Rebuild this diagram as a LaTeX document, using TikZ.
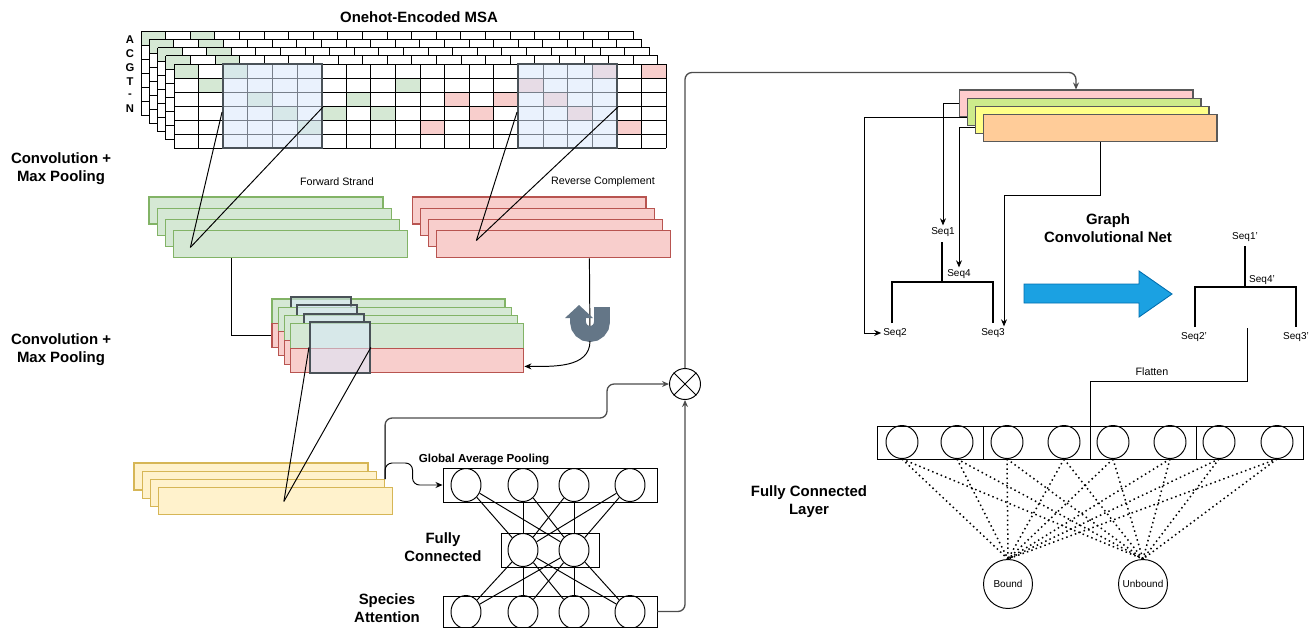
\documentclass[tikz,border=0pt]{standalone}
\usepackage{fontspec}
\setmainfont{Liberation Sans}
\usetikzlibrary{positioning,arrows.meta,calc,shapes.geometric}

\definecolor{cellgreen}{HTML}{D5E8D4}
\definecolor{cellred}{HTML}{F8CECC}
\definecolor{fwdline}{HTML}{82B366}
\definecolor{revline}{HTML}{B85450}
\definecolor{poolfill}{HTML}{FFF2CC}
\definecolor{poolline}{HTML}{D6B656}
\definecolor{hlfill}{HTML}{DAE8FC}
\definecolor{hlline}{HTML}{4A5258}
\definecolor{uturncol}{HTML}{647687}
\definecolor{gcnblue}{HTML}{1BA1E2}
\definecolor{gcnline}{HTML}{006EAF}
\definecolor{embpink}{HTML}{FFCCCC}
\definecolor{embgreen}{HTML}{CDEB8B}
\definecolor{embyellow}{HTML}{FFFF88}
\definecolor{embpeach}{HTML}{FFCC99}

\newcommand{\headfont}{\fontsize{8.5}{10.3}\selectfont\bfseries}
\newcommand{\gapfont}{\fontsize{6.6}{8}\selectfont\bfseries}
\newcommand{\letterfont}{\fontsize{6.4}{8}\selectfont\bfseries}
\newcommand{\notefont}{\fontsize{6.1}{7.5}\selectfont}
\newcommand{\seqfont}{\fontsize{5.7}{7}\selectfont}

% one layer of the one-hot grid: #1 = offset, #2 = cells col/row/colour
\newcommand{\msalayer}[2]{%
  \begin{scope}[shift={(#1,#1)}]
    \fill[white] (141,31) rectangle ++(492,84);
    \foreach \cx/\ry/\cl in {#2}
      \fill[\cl] (141+24.6*\cx,31+14*\ry) rectangle ++(24.6,14);
    \foreach \cx in {0,...,20} \draw[gridline] (141+24.6*\cx,31) -- ++(0,84);
    \foreach \ry in {0,...,6} \draw[gridline] (141,31+14*\ry) -- ++(492,0);
  \end{scope}}

\begin{document}
\begin{tikzpicture}[
  x=0.02cm, y=-0.02cm,
  gridline/.style={draw=black,line width=0.5pt},
  hl/.style={rectangle,draw=hlline,line width=1.1pt,fill=hlfill,fill opacity=0.55,inner sep=0pt},
  layerbox/.style={rectangle,inner sep=0pt,minimum width=4.68cm,minimum height=0.54cm,line width=0.6pt},
  fwd/.style={layerbox,fill=cellgreen,draw=fwdline},
  rev/.style={layerbox,fill=cellred,draw=revline},
  pool/.style={layerbox,fill=poolfill,draw=poolline},
  emb/.style={layerbox,draw=black!65},
  conn/.style={draw=black,line width=0.55pt},
  arrowed/.style={-{Stealth[length=4pt,width=3.4pt]}},
  arr/.style={conn,arrowed},
  flow/.style={draw=black!70,line width=0.75pt,rounded corners=4pt},
  neuron/.style={ellipse,draw,line width=0.55pt,inner sep=0pt,minimum width=0.6cm,minimum height=0.66cm},
  nnbox/.style={rectangle,draw,line width=0.55pt,inner sep=0pt},
  outn/.style={circle,draw,line width=0.55pt,minimum size=0.98cm,inner sep=0pt,font=\seqfont},
  branch/.style={draw=black,line width=1.1pt},
  seq/.style={font=\seqfont,inner sep=1pt},
  head/.style={font=\headfont,align=center,inner sep=0pt},
  note/.style={font=\notefont,inner sep=0pt},
  dots/.style={draw=black,line width=0.85pt,dash pattern=on 0.85pt off 1.8pt},
]
\useasboundingbox (0,0) rectangle (1312,627);

% one-hot encoded MSA, back layers first
\node[head] (title) at (419,17) {Onehot-Encoded MSA};
\foreach \l in {0,...,3} \msalayer{8.25*\l}{0/0/cellgreen,2/0/cellgreen};
\msalayer{33}{0/0/cellgreen,1/1/cellgreen,2/0/cellgreen,3/2/cellgreen,4/3/cellgreen,
  5/4/cellgreen,6/3/cellgreen,7/2/cellgreen,8/3/cellgreen,9/1/cellgreen,
  10/4/cellred,11/2/cellred,12/3/cellred,13/2/cellred,14/1/cellred,
  15/2/cellred,16/3/cellred,17/0/cellred,18/4/cellred,19/0/cellred}
\foreach \t/\yy [count=\k] in {A/40,C/54,G/68,T/82,-/96,N/109}
  \node[font=\letterfont,inner sep=0pt] (nt\k) at (130,\yy) {\t};
\node[hl,minimum width=1.98cm,minimum height=1.68cm] (msab1) at (272.5,106) {};
\node[hl,minimum width=1.98cm,minimum height=1.68cm] (msab2) at (567.5,106) {};

\node[head] (conv1) at (61,169) {Convolution +\\Max Pooling};
\node[head] (conv2) at (61,350) {Convolution +\\Max Pooling};

% strand feature maps
\node[note] (fwdlbl) at (337,182) {Forward Strand};
\node[note] (revlbl) at (603,182) {Reverse Complement};
\foreach \i in {0,...,3} {
  \node[fwd] (fw\i) at (266+8.3*\i,210.5+11.3*\i) {};
  \node[rev] (rv\i) at (529+8.3*\i,210.5+11.3*\i) {};
}
\coordinate (fwtip) at ($(fw3.west)+(17,3)$);
\coordinate (rvtip) at ($(rv3.west)+(40,-4)$);
\draw[conn] ($(msab1.west)+(0,6)$) -- (fwtip);
\draw[conn] ($(msab1.east)+(0,1)$) -- (fwtip);
\draw[conn] ($(msab2.west)+(0,6)$) -- (rvtip);
\draw[conn] ($(msab2.east)+(0,1)$) -- (rvtip);

% merged forward + reverse maps
\foreach \i in {0,...,3} {
  \node[fwd,minimum width=4.66cm,minimum height=0.5cm] (mg\i) at (388.5+6.3*\i,311.5+8.3*\i) {};
  \node[rev,minimum width=4.66cm,minimum height=0.48cm] (mr\i) at (388.5+6.3*\i,335.5+8.3*\i) {};
  \node[hl,minimum width=1.2cm,minimum height=1.02cm] (mb\i) at (321+6.3*\i,322.5+8.3*\i) {};
}
\draw[conn] ($(fw3.south west)+(58,0)$) |- (mr0.west);

% reverse complement is flipped back
\coordinate (ubot) at (590,341);
\draw[conn] ($(rv3.south west)+(153,0)$) -- (ubot);
\draw[uturncol,line width=9pt] (602,307) -- (602,322) arc[start angle=0,end angle=-180,radius=0.24cm] -- (578,318);
\fill[uturncol] (565,318) -- (579,305) -- (593,318) -- cycle;
\draw[arr] (ubot) to[out=-90,in=0] ($(mr3.east)+(0,6)$);

% pooled maps
\foreach \i in {0,...,3} \node[pool] (yl\i) at (251+8.3*\i,476.5+8.3*\i) {};
\coordinate (yltip) at ($(yl3.center)+(8,0)$);
\draw[conn] (mb3.west) -- (yltip);
\draw[conn] (mb3.east) -- (yltip);

% species attention branch
\node[font=\gapfont,inner sep=0pt] (gaplbl) at (484,460) {Global Average Pooling};
\node[nnbox,minimum width=4.28cm,minimum height=0.68cm] (gap) at (550,485) {};
\node[nnbox,minimum width=1.96cm,minimum height=0.68cm] (fc) at (550,550) {};
\node[nnbox,minimum width=4.28cm,minimum height=0.62cm] (sa) at (550,611.5) {};
\foreach \i/\xx in {1/466,2/523,3/574,4/630} {
  \node[neuron] (g\i) at (\xx,485) {};
  \node[neuron] (s\i) at (\xx,612) {};
}
\node[neuron] (h1) at (523,550) {};
\node[neuron] (h2) at (574,550) {};
\foreach \i in {1,...,4} \foreach \j in {1,2} {
  \draw[conn] (g\i) -- (h\j);
  \draw[conn] (h\j) -- (s\i);
}
\node[head] (fclbl) at (443,547) {Fully\\Connected};
\node[head] (salbl) at (387,608) {Species\\Attention};

% weighting
\node[circle,draw,line width=0.55pt,minimum size=0.62cm,inner sep=0pt] (mult) at (685,384) {};
\draw[conn] (mult.north west) -- (mult.south east) (mult.north east) -- (mult.south west);
\draw[flow,arrowed] (yl2.north east) |- ($(mult.west)+(-62,34)$) |- (mult.west);
\draw[conn,rounded corners=4pt,arrowed] (yl2.north east) |- ($(gap.west)+(-30,-22)$) |- (gap.west);
\draw[flow,arrowed] (sa.east) -| (mult.south);

% sequence embeddings
\foreach \i/\cl in {0/embpink,1/embgreen,2/embyellow,3/embpeach}
  \node[emb,fill=\cl] (em\i) at (1076+8*\i,103.5+8.3*\i) {};
\draw[flow,arrowed] (mult.north) |- ($(em0.north)+(0,-17)$) -- (em0.north);

% phylogenetic tree
\node[seq] (seq1) at (943,232) {Seq1};
\node[seq] (seq4) at (959,274) {Seq4};
\node[seq] (seq2) at (895,333) {Seq2};
\node[seq] (seq3) at (993,333) {Seq3};
\coordinate (stem1) at (942,242);
\coordinate (j1) at (942,282);
\coordinate (leaf2) at (892,323);
\coordinate (leaf3) at (993,323);
\draw[branch] (stem1) -- (j1) (leaf2) |- (leaf3 |- j1) -- (leaf3);
\draw[arr] (em0.west) -| (seq1.north);
\draw[arr] ($(em1.west)+(0,6)$) -| ($(seq2.west)+(-17,0)$) -- (seq2.west);
\draw[arr] ($(em2.west)+(0,7)$) -| (seq4.north);
\draw[arr] (em3.south) |- ($(seq3.north)+(11,-131)$) -- ($(seq3.north)+(11,0)$);

% graph convolution
\node[head] (gcnlbl) at (1108,228) {Graph\\Convolutional Net};
\filldraw[fill=gcnblue,draw=gcnline,line width=0.5pt] (1024,284) -- (1139,284) -- (1139,271)
  -- (1172,294) -- (1139,317) -- (1139,303) -- (1024,303) -- cycle;
\node[seq] (seq1p) at (1245,237) {Seq1'};
\node[seq] (seq4p) at (1262,280) {Seq4'};
\node[seq] (seq2p) at (1194,337) {Seq2'};
\node[seq] (seq3p) at (1296,337) {Seq3'};
\coordinate (stem2) at (1245,246);
\coordinate (j2) at (1245,287);
\coordinate (leaf2p) at (1195,327);
\coordinate (leaf3p) at (1296,327);
\draw[branch] (stem2) -- (j2) (leaf2p) |- (leaf3p |- j2) -- (leaf3p);

% classifier
\foreach \i/\xx in {1/930.25,2/1036.75,3/1143.25,4/1249.75}
  \node[nnbox,minimum width=2.13cm,minimum height=0.66cm] (fb\i) at (\xx,442.5) {};
\foreach \i/\xx in {1/902,2/957,3/1007,4/1064,5/1113,6/1170,7/1219,8/1277}
  \node[neuron,minimum width=0.64cm] (f\i) at (\xx,442) {};
\coordinate (flat) at (1247,328);
\draw[conn] (flat) |- ($(fb2.north east)+(0,-44)$) -- (fb2.north east);
\node[note] (flatlbl) at (1152,372) {Flatten};
\node[head] (fcllbl) at (809,502) {Fully Connected\\Layer};
\node[outn] (bound) at (1008,584) {Bound};
\node[outn] (unbound) at (1143,584) {Unbound};
\foreach \i in {1,...,8} {
  \draw[dots] (f\i.south) -- (bound.north);
  \draw[dots] (f\i.south) -- (unbound.north);
}
\end{tikzpicture}
\end{document}
